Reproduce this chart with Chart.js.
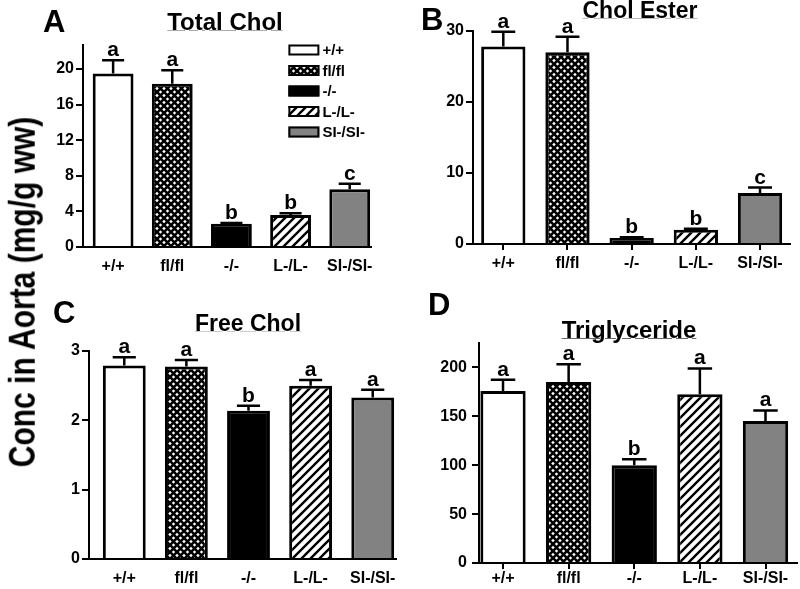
<!DOCTYPE html>
<html>
<head>
<meta charset="utf-8">
<script src="https://cdn.jsdelivr.net/npm/chart.js@4.4.0/dist/chart.umd.min.js"></script>
<style>
  body { margin: 0; width: 800px; height: 589px; overflow: hidden; background: #fff; position: relative;
         font-family: "Liberation Sans", Arial, sans-serif; }
  canvas { position: absolute; }
  .txt { position: absolute; font-weight: bold; color: #000; white-space: nowrap; line-height: 1; }
</style>
</head>
<body>
<canvas id="cA"></canvas>
<canvas id="cB"></canvas>
<canvas id="cC"></canvas>
<canvas id="cD"></canvas>
<script>
// groups (x categories)
const categories = ['+/+', 'fl/fl', '-/-', 'L-/L-', 'SI-/SI-'];

// A - total cholesterol
const totalChol = [19.5, 18.35, 2.6, 3.6, 6.5];
const totalCholErr = [1.5, 1.5, 0.1, 0.2, 0.6];
const totalCholMarks = ['a', 'a', 'b', 'b', 'c'];

// B - cholesterol ester
const cholEster = [27.8, 27.0, 0.85, 2.0, 7.2];
const cholEsterErr = [2.1, 2.2, 0.1, 0.15, 0.75];
const cholEsterMarks = ['a', 'a', 'b', 'b', 'c'];

// C - free cholesterol
const freeChol = [2.79, 2.775, 2.14, 2.50, 2.33];
const freeCholErr = [0.12, 0.095, 0.07, 0.08, 0.11];
const freeCholMarks = ['a', 'a', 'b', 'a', 'a'];

// D - triglyceride
const trig = [176, 185, 100, 172.6, 145.2];
const trigErr = [11.3, 18.2, 6.2, 26.4, 10.8];
const trigMarks = ['a', 'a', 'b', 'a', 'a'];

const FONT = '"Liberation Sans", Arial, sans-serif';
Chart.defaults.font.family = FONT;

// fills for the five groups
function crossPattern() {
    var c = document.createElement('canvas');
    c.width = 7; c.height = 7;
    var g = c.getContext('2d');
    g.fillStyle = '#fff';
    g.fillRect(0, 0, 7, 7);
    g.strokeStyle = '#000';
    g.lineWidth = 2.6;
    g.beginPath();
    g.moveTo(-1, -1); g.lineTo(8, 8);
    g.moveTo(8, -1); g.lineTo(-1, 8);
    g.stroke();
    return g.createPattern(c, 'repeat');
}
function stripePattern() {
    var c = document.createElement('canvas');
    c.width = 9; c.height = 9;
    var g = c.getContext('2d');
    g.fillStyle = '#fff';
    g.fillRect(0, 0, 9, 9);
    g.strokeStyle = '#000';
    g.lineWidth = 2.4;
    g.beginPath();
    g.moveTo(-1, 10); g.lineTo(10, -1);
    g.moveTo(-2, 2); g.lineTo(2, -2);
    g.moveTo(7, 11); g.lineTo(11, 7);
    g.stroke();
    return g.createPattern(c, 'repeat');
}
const fills = ['#ffffff', crossPattern(), '#000000', stripePattern(), '#828282'];

// error bars + letters above them
function errorBars(errors, marks) {
    return {
        id: 'errbars',
        afterDatasetsDraw: function (chart) {
            var ctx = chart.ctx;
            var meta = chart.getDatasetMeta(0);
            var ys = chart.scales.y;
            var data = chart.data.datasets[0].data;
            ctx.save();
            ctx.strokeStyle = '#000';
            ctx.lineWidth = 2.5;
            ctx.fillStyle = '#000';
            ctx.font = 'bold 21px ' + FONT;
            ctx.textAlign = 'center';
            ctx.textBaseline = 'alphabetic';
            meta.data.forEach(function (bar, i) {
                var top = ys.getPixelForValue(data[i].y + errors[i]);
                var half = bar.width * 0.27;
                ctx.beginPath();
                ctx.moveTo(bar.x, bar.y);
                ctx.lineTo(bar.x, top);
                ctx.moveTo(bar.x - half, top);
                ctx.lineTo(bar.x + half, top);
                ctx.stroke();
                ctx.fillText(marks[i], bar.x, top - 4);
            });
            ctx.restore();
        }
    };
}

// legend inside panel A
const boxLegend = {
    id: 'boxlegend',
    afterDraw: function (chart) {
        var ctx = chart.ctx;
        var x0 = chart.chartArea.right - 83;
        var y0 = chart.chartArea.top + 5;
        ctx.save();
        categories.forEach(function (name, i) {
            var y = y0 + i * 20.5;
            ctx.fillStyle = fills[i];
            ctx.fillRect(x0, y - 5.5, 31, 11);
            ctx.strokeStyle = '#000';
            ctx.lineWidth = 2;
            ctx.strokeRect(x0 + 1, y - 4.5, 29, 9);
            ctx.fillStyle = '#000';
            ctx.font = 'bold 15px ' + FONT;
            ctx.textAlign = 'left';
            ctx.textBaseline = 'middle';
            ctx.fillText(name, x0 + 34, y + 1);
        });
        ctx.restore();
    }
};

const YW = 45, XH = 28, PT = 30, PR = 8;

function makePanel(p) {
    var cv = document.getElementById(p.id);
    var a = p.area;
    cv.width = (a.r - a.l) + YW + PR;
    cv.height = (a.b - a.t) + PT + XH;
    cv.style.left = (a.l - YW) + 'px';
    cv.style.top = (a.t - PT) + 'px';
    var tickFont = { size: 16, weight: 'bold', family: FONT };
    return new Chart(cv, {
        type: 'bar',
        data: {
            datasets: [{
                data: p.values.map(function (v, i) { return { x: i, y: v }; }),
                backgroundColor: fills,
                borderColor: '#000',
                borderWidth: 3,
                barPercentage: 0.69,
                categoryPercentage: 1
            }]
        },
        options: {
            responsive: false,
            animation: false,
            events: [],
            layout: { padding: { top: PT, right: PR, bottom: 0, left: 0 } },
            plugins: { legend: { display: false }, tooltip: { enabled: false } },
            scales: {
                x: {
                    type: 'linear',
                    offset: false,
                    min: p.xMin,
                    max: p.xMax,
                    afterFit: function (s) { s.height = XH; },
                    grid: { display: p.xTicks, offset: false, drawOnChartArea: false, drawTicks: p.xTicks, tickLength: 6, color: '#000', lineWidth: 2 },
                    border: { display: true, color: '#000', width: 2 },
                    ticks: {
                        stepSize: 1,
                        includeBounds: false,
                        autoSkip: false,
                        maxRotation: 0,
                        padding: p.xPad,
                        color: '#000',
                        font: tickFont,
                        callback: function (v) { return categories[v] !== undefined ? categories[v] : ''; }
                    }
                },
                y: {
                    min: 0,
                    max: p.yMax,
                    afterFit: function (s) { s.width = YW; },
                    grid: { display: true, drawOnChartArea: false, drawTicks: true, tickLength: 7, color: '#000', lineWidth: 2 },
                    border: { display: true, color: '#000', width: 2 },
                    ticks: { stepSize: p.yStep, includeBounds: false, padding: p.yPad, color: '#000', font: tickFont }
                }
            }
        },
        plugins: p.extra ? [errorBars(p.errors, p.marks), p.extra] : [errorBars(p.errors, p.marks)]
    });
}

makePanel({ id: 'cA', values: totalChol, errors: totalCholErr, marks: totalCholMarks, yMax: 22.7, yStep: 4,
    area: { l: 83, t: 45, r: 375, b: 247 }, xMin: -0.509, xMax: 4.366, xTicks: false, xPad: 10, yPad: 2, extra: boxLegend });
makePanel({ id: 'cB', values: cholEster, errors: cholEsterErr, marks: cholEsterMarks, yMax: 30, yStep: 10,
    area: { l: 473, t: 31, r: 790, b: 244 }, xMin: -0.472, xMax: 4.467, xTicks: true, xPad: 4, yPad: 2 });
makePanel({ id: 'cC', values: freeChol, errors: freeCholErr, marks: freeCholMarks, yMax: 3, yStep: 1,
    area: { l: 89, t: 351, r: 398, b: 559 }, xMin: -0.568, xMax: 4.376, xTicks: false, xPad: 10, yPad: 2 });
makePanel({ id: 'cD', values: trig, errors: trigErr, marks: trigMarks, yMax: 225, yStep: 50,
    area: { l: 479, t: 343, r: 797, b: 563 }, xMin: -0.366, xMax: 4.48, xTicks: true, xPad: 0, yPad: 5 });

// titles, panel letters and the shared y title
function addText(str, x, baseline, size, center, underline) {
    var d = document.createElement('div');
    d.className = 'txt';
    d.textContent = str;
    d.style.fontSize = size + 'px';
    d.style.left = x + 'px';
    d.style.top = (baseline - 0.8465 * size) + 'px';
    if (center) d.style.transform = 'translateX(-50%)';
    if (underline) {
        d.style.textDecoration = 'underline';
        d.style.textDecorationColor = underline;
        d.style.textDecorationThickness = '1px';
        d.style.textUnderlineOffset = '0px';
    }
    document.body.appendChild(d);
}
addText('Total Chol', 225, 30, 24, true, '#aaa');
addText('Chol Ester', 640, 18, 23, true, '#bbb');
addText('Free Chol', 248, 331, 23, true, '#ccc');
addText('Triglyceride', 629, 338, 24, true, '#666');
addText('A', 43, 32, 31);
addText('B', 421, 30, 31);
addText('C', 53, 323, 31);
addText('D', 428, 315, 31);

var yt = document.createElement('div');
yt.className = 'txt';
yt.textContent = 'Conc in Aorta (mg/g ww)';
yt.style.fontSize = '30px';
yt.style.left = '22px';
yt.style.top = '292px';
yt.style.transform = 'translate(-50%, -50%) rotate(-90deg) scale(1, 1.25)';
document.body.appendChild(yt);
</script>
</body>
</html>
